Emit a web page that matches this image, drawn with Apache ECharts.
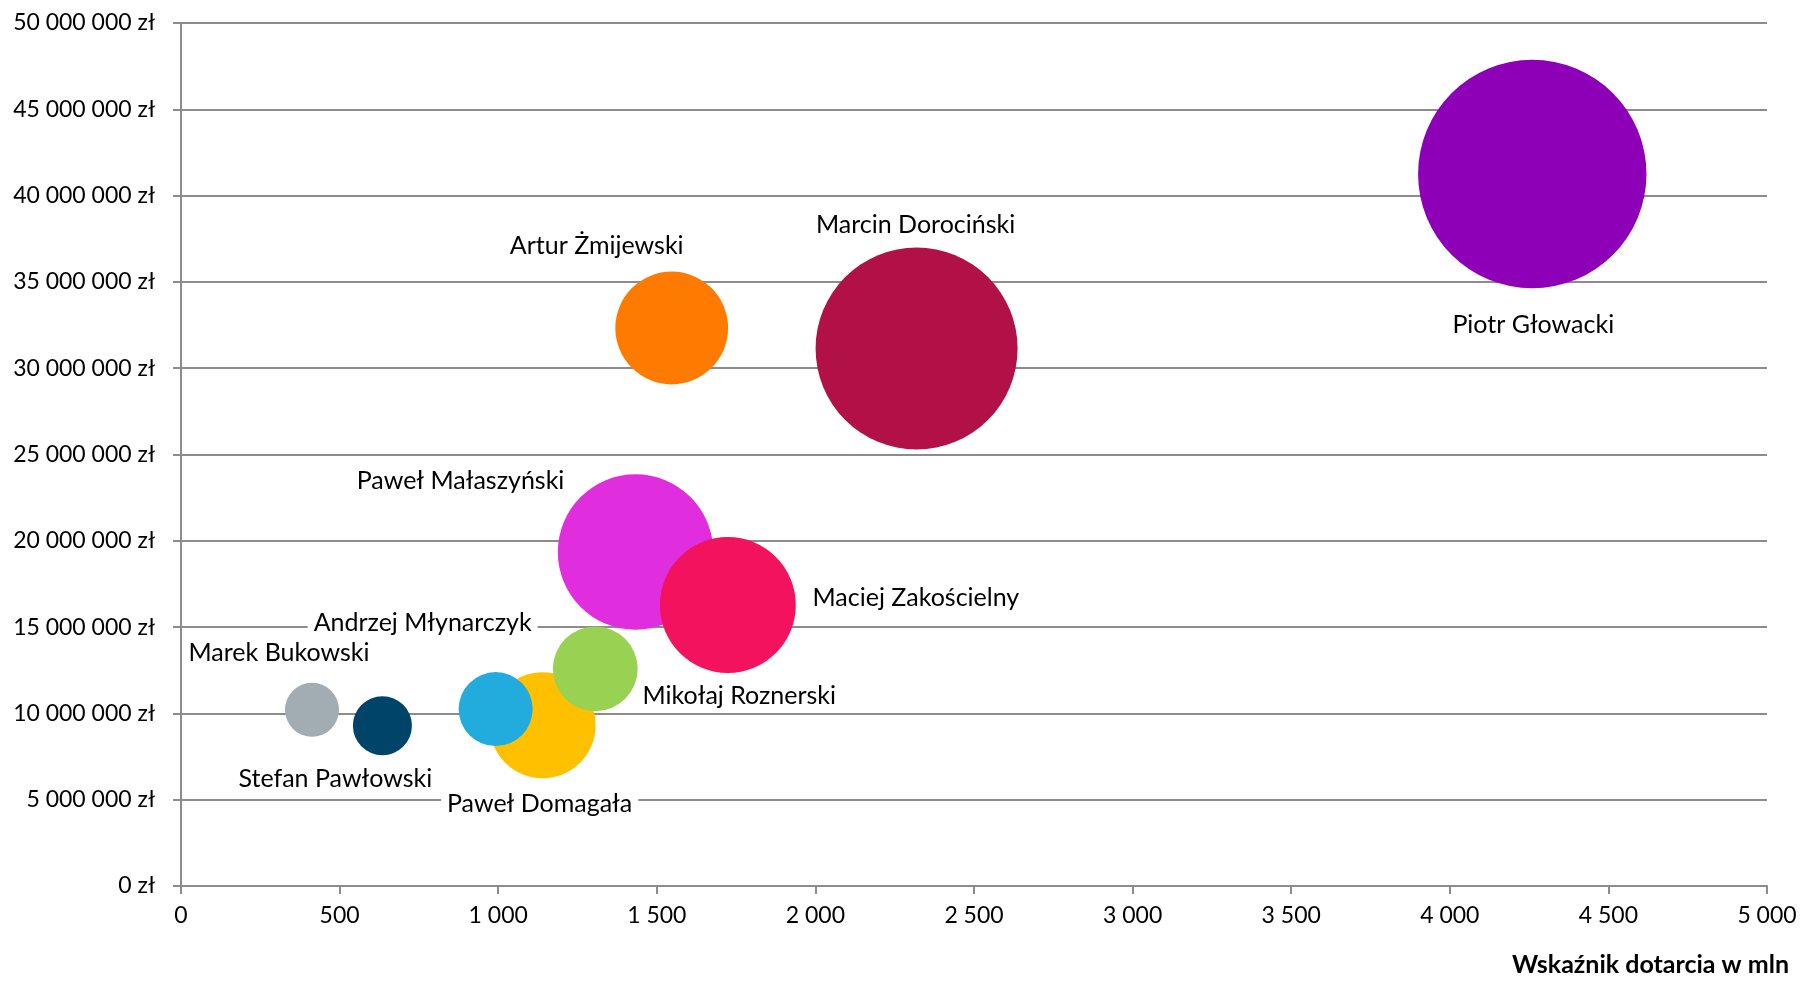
<!DOCTYPE html>
<html>
<head>
<meta charset="utf-8">
<script src="https://cdn.jsdelivr.net/npm/echarts@6/dist/echarts.min.js"></script>
<style>
  html, body { margin: 0; padding: 0; background: #fff; }
  #chart { width: 1804px; height: 981px; }
</style>
</head>
<body>
<div id="chart"></div>
<script>
// dane wykresu
const names = ['Marek Bukowski', 'Stefan Pawłowski', 'Paweł Domagała', 'Andrzej Młynarczyk', 'Mikołaj Roznerski',
  'Paweł Małaszyński', 'Maciej Zakościelny', 'Artur Żmijewski', 'Marcin Dorociński', 'Piotr Głowacki'];
const dotarcie = [413, 635, 1140, 992, 1306, 1433, 1724, 1547, 2319, 4260];
const wartosc = [10210000, 9290000, 9310000, 10250000, 12580000, 19350000, 16280000, 32330000, 31140000, 41250000];
const wielkosc = [0.73, 0.87, 2.81, 1.37, 1.80, 6.04, 4.62, 3.18, 10.2, 13.04];

const colors = ['#A2ADB3', '#00446A', '#FFC000', '#22ACDE', '#99D153', '#E02EDF', '#F2125E', '#FF7B00', '#B11147', '#8E00B8'];
// przesunięcia etykiet względem środka bąbla
const labelOffsets = [[-33, -57], [-47, 53], [-3, 79], [-73, -86], [144, 27], [-175, -71], [188, -7], [-75, -82], [-1, -124], [1, 151]];

const font = 'Lato';
function spaced(v) {
    return String(v).replace(/\B(?=(\d{3})+(?!\d))/g, ' ');
}

let myChart = echarts.init(document.getElementById('chart'));
let data = [];
for (let i = 0; i < names.length; i++) {
    data.push({
        name: names[i],
        value: [dotarcie[i], wartosc[i], wielkosc[i]],
        itemStyle: { color: colors[i] }
    });
}

let option = {
    animation: false,
    textStyle: { fontFamily: font },
    title: {
        text: 'Wskaźnik dotarcia w mln',
        right: 10,
        top: 947,
        textStyle: { fontFamily: font, fontSize: 25, fontWeight: 'bold', color: '#000' }
    },
    grid: { left: 181, right: 37, top: 23, bottom: 95 },
    xAxis: {
        type: 'value',
        min: 0,
        max: 5000,
        interval: 500,
        axisLine: { lineStyle: { color: '#8C8C8C', width: 2 } },
        axisTick: { show: true, length: 8, lineStyle: { color: '#8C8C8C', width: 2 } },
        splitLine: { show: false },
        axisLabel: {
            margin: 18,
            fontSize: 23,
            color: '#000',
            fontFamily: font,
            formatter: function (v) { return spaced(v); }
        }
    },
    yAxis: {
        type: 'value',
        min: 0,
        max: 50000000,
        interval: 5000000,
        axisLine: { show: true, lineStyle: { color: '#8C8C8C', width: 2 } },
        axisTick: { show: true, length: 8, lineStyle: { color: '#8C8C8C', width: 2 } },
        splitLine: { lineStyle: { color: '#8C8C8C', width: 2 } },
        axisLabel: {
            margin: 26,
            fontSize: 23,
            color: '#000',
            fontFamily: font,
            formatter: function (v) { return spaced(v) + ' zł'; }
        }
    },
    series: [
        {
            type: 'scatter',
            data: data,
            symbolSize: function (val) {
                return 63.25 * Math.sqrt(val[2]);
            },
            itemStyle: { opacity: 1 },
            label: {
                show: true,
                position: 'inside',
                formatter: '{b}',
                fontFamily: font,
                fontSize: 25,
                color: '#000',
                backgroundColor: '#fff',
                padding: [2, 6]
            },
            labelLayout: function (params) {
                const o = labelOffsets[params.dataIndex];
                return { dx: o[0], dy: o[1], hideOverlap: false };
            }
        }
    ]
};
myChart.setOption(option);
</script>
</body>
</html>
